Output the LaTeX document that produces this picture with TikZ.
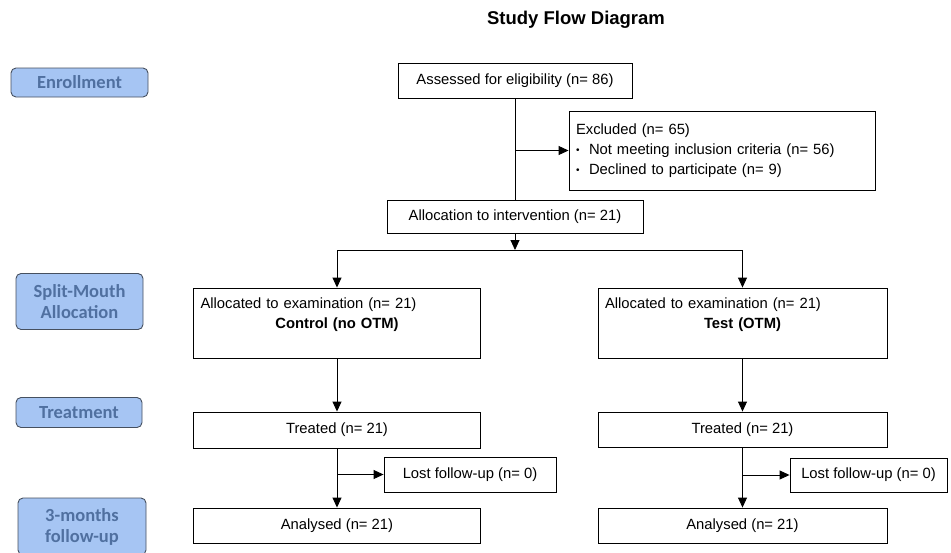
\documentclass[tikz,border=0pt]{standalone}
\usepackage{fontspec}
\setmainfont{Liberation Sans}
\newfontfamily\stagefont{Carlito}
\usepackage{xcolor}
\usetikzlibrary{arrows.meta}
\definecolor{stagefill}{RGB}{166,197,243}
\definecolor{stagetext}{RGB}{80,112,160}
\definecolor{stagedraw}{RGB}{70,80,95}
\newcommand{\bul}{\makebox[13pt][l]{\raisebox{1pt}{\fontsize{10}{10}\selectfont\textbullet}}}

\begin{document}
\begin{tikzpicture}[x=1pt, y=-1pt, >={Triangle[length=10pt, width=9pt]},
    every node/.style={font=\fontsize{14.8}{20}\selectfont},
    box/.style={draw, line width=0.9pt, inner sep=0pt},
    stage/.style={draw=stagedraw, fill=stagefill, rounded corners=5pt, line width=0.9pt,
        text=stagetext, align=center, inner sep=0pt,
        font=\stagefont\bfseries\fontsize{18.5}{21}\selectfont},
    link/.style={line width=0.9pt}]
    \useasboundingbox (0,0) rectangle (951,552);
    % Title
    \node[font=\bfseries\fontsize{18.5}{20}\selectfont] (title) at (576,20) {Study Flow Diagram};
    % Stages
    \node[stage, minimum width=137, minimum height=29] (enrol) at (79.5,82.5) {Enrollment};
    \node[stage, minimum width=127, minimum height=56] (split) at (79.5,301.5) {Split-Mouth\\Allocation};
    \node[stage, minimum width=126, minimum height=30] (treat) at (79,412.5) {Treatment};
    \node[stage, minimum width=128, minimum height=57] (follow) at (82,526.5) {3-months\\follow-up};
    % Enrollment boxes
    \node[box, minimum width=234, minimum height=35] (assess) at (515,80.5) {Assessed for eligibility (n= 86)};
    \node[box, minimum width=306, minimum height=79, text width=292, inner xsep=7pt, align=left] (excl) at (722,150.5)
        {Excluded (n= 65)\\
         \bul Not meeting inclusion criteria (n= 56)\\
         \bul Declined to participate (n= 9)};
    \node[box, minimum width=256, minimum height=33] (alloc) at (515,216.5) {Allocation to intervention (n= 21)};
    \coordinate (fork) at (515,250);
    % Control side
    \node[box, minimum height=70, text width=273, inner xsep=7pt, align=left] (allocL) at (337,323)
        {Allocated to examination (n= 21)\\ \makebox[\linewidth]{\bfseries Control (no OTM)}\\ \mbox{}};
    \node[box, minimum width=287, minimum height=36] (treatL) at (337,430) {Treated (n= 21)};
    \node[box, minimum width=172, minimum height=35] (lostL) at (470,474.5) {Lost follow-up (n= 0)};
    \node[box, minimum width=287, minimum height=35] (analL) at (337,525.5) {Analysed (n= 21)};
    % Test side
    \node[box, minimum height=70, text width=275, inner xsep=7pt, align=left] (allocR) at (742.5,323)
        {Allocated to examination (n= 21)\\ \makebox[\linewidth]{\bfseries Test (OTM)}\\ \mbox{}};
    \node[box, minimum width=289, minimum height=35] (treatR) at (742.5,429.5) {Treated (n= 21)};
    \node[box, minimum width=157, minimum height=34] (lostR) at (868.5,475) {Lost follow-up (n= 0)};
    \node[box, minimum width=289, minimum height=35] (analR) at (742.5,525.5) {Analysed (n= 21)};
    % Connectors
    \draw[link] (assess) -- (alloc);
    \draw[link, ->] (assess.south |- excl.west) -- (excl.west);
    \draw[link, ->] (alloc) -- (fork);
    \draw[link] (fork -| allocL) -- (fork -| allocR);
    \draw[link, ->] (allocL.north |- fork) -- (allocL);
    \draw[link, ->] (allocR.north |- fork) -- (allocR);
    \draw[link, ->] (allocL) -- (treatL);
    \draw[link, ->] (allocR) -- (treatR);
    \draw[link, ->] (treatL) -- (analL);
    \draw[link, ->] (treatR) -- (analR);
    \draw[link, ->] (treatL.south |- lostL.west) -- (lostL.west);
    \draw[link, ->] (treatR.south |- lostR.west) -- (lostR.west);
\end{tikzpicture}
\end{document}
